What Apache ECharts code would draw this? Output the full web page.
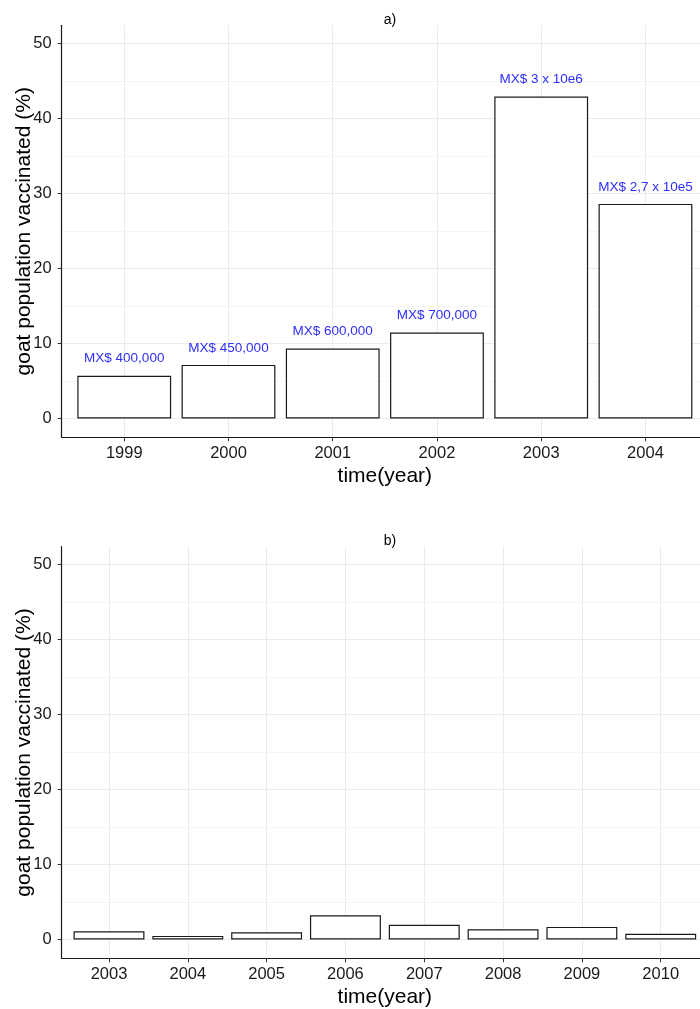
<!DOCTYPE html>
<html><head><meta charset="utf-8">
<script src="https://cdn.jsdelivr.net/npm/echarts@6/dist/echarts.min.js"></script>
<style>html,body{margin:0;padding:0;background:#fff}#c{width:700px;height:1009px}</style>
</head><body><div id="c"></div>
<script>
// ---- data ----
const yearsA = ['1999', '2000', '2001', '2002', '2003', '2004'];
const valuesA = [5.7, 7.15, 9.33, 11.47, 42.9, 28.6];
const costLabelsA = ['MX$ 400,000', 'MX$ 450,000', 'MX$ 600,000', 'MX$ 700,000', 'MX$ 3 x 10e6', 'MX$ 2,7 x 10e5'];
const yearsB = ['2003', '2004', '2005', '2006', '2007', '2008', '2009', '2010'];
const valuesB = [1.1, 0.49, 0.97, 3.24, 1.96, 1.37, 1.69, 0.76];
const yMajorTicks = [0, 10, 20, 30, 40, 50];
const yMinorTicks = [5, 15, 25, 35, 45];
const panelTitles = ['a)', 'b)'];
const xTitle = 'time(year)';
const yTitle = 'goat population vaccinated (%)';

// ---- chart ----
const FONT = "'Liberation Sans', Arial, Helvetica, sans-serif";
const panels = [
  { years: yearsA, values: valuesA, labels: costLabelsA, top: 25.3, height: 412, titleTop: 8.5 },
  { years: yearsB, values: valuesB, labels: null, top: 546.7, height: 411.6, titleTop: 529 }
];
const gridLeft = 61.7, gridWidth = 646.3;

const option = {
  animation: false,
  backgroundColor: '#ffffff',
  textStyle: { fontFamily: FONT },
  title: panels.map((p, i) => ({
    text: panelTitles[i],
    left: gridLeft + gridWidth / 2,
    textAlign: 'center',
    top: p.titleTop,
    textStyle: { fontFamily: FONT, fontSize: 14, fontWeight: 'normal', color: '#000' }
  })),
  grid: panels.map(p => ({
    left: gridLeft, top: p.top, width: gridWidth, height: p.height,
    outerBoundsMode: 'none', containLabel: false
  })),
  xAxis: panels.map((p, i) => {
    const idx = p.years.map((_, k) => k + 1);
    return {
      type: 'value', gridIndex: i,
      min: 0.4, max: p.years.length + 0.6,
      name: xTitle, nameLocation: 'middle', nameGap: 28, nameMoveOverlap: false,
      nameTextStyle: { fontFamily: FONT, fontSize: 21, color: '#000' },
      axisLine: { show: true, onZero: false, lineStyle: { color: '#1a1a1a', width: 1.2 } },
      axisTick: { show: true, length: 4, customValues: idx, lineStyle: { color: '#333', width: 1 } },
      axisLabel: {
        customValues: idx, margin: 8, fontFamily: FONT, fontSize: 16.5, color: '#1a1a1a',
        formatter: v => p.years[Math.round(v) - 1]
      },
      splitLine: { show: true, lineStyle: { color: '#ebebeb', width: 1 } }
    };
  }),
  yAxis: panels.flatMap((p, i) => ([
    {
      type: 'value', gridIndex: i, position: 'left',
      min: -2.5, max: 52.4,
      name: yTitle, nameLocation: 'middle', nameGap: 27, nameMoveOverlap: false,
      nameTextStyle: { fontFamily: FONT, fontSize: 21, color: '#000' },
      axisLine: { show: true, onZero: false, lineStyle: { color: '#1a1a1a', width: 1.2 } },
      axisTick: { show: true, length: 4, customValues: yMajorTicks, lineStyle: { color: '#333', width: 1 } },
      axisLabel: { customValues: yMajorTicks, margin: 10, fontFamily: FONT, fontSize: 16.5, color: '#1a1a1a' },
      splitLine: { show: true, lineStyle: { color: '#ebebeb', width: 1 } }
    },
    {
      type: 'value', gridIndex: i, position: 'left',
      min: -2.5, max: 52.4,
      axisLine: { show: false },
      axisTick: { show: false, customValues: yMinorTicks },
      axisLabel: { show: false, customValues: yMinorTicks },
      splitLine: { show: true, lineStyle: { color: '#f5f5f5', width: 1 } }
    }
  ])),
  series: panels.map((p, i) => ({
    type: 'bar',
    xAxisIndex: i, yAxisIndex: i * 2,
    z: 3,
    data: p.values.map((v, k) => [k + 1, v]),
    barWidth: '90%',
    itemStyle: { color: '#ffffff', borderColor: '#1a1a1a', borderWidth: 1.2 },
    label: p.labels ? {
      show: true, position: 'top', distance: 10,
      formatter: q => p.labels[q.dataIndex],
      fontFamily: FONT, fontSize: 13.5, color: '#2e2eff'
    } : { show: false }
  }))
};

const chart = echarts.init(document.getElementById('c'), null, { renderer: 'canvas' });
chart.setOption(option);
</script>
</body></html>
